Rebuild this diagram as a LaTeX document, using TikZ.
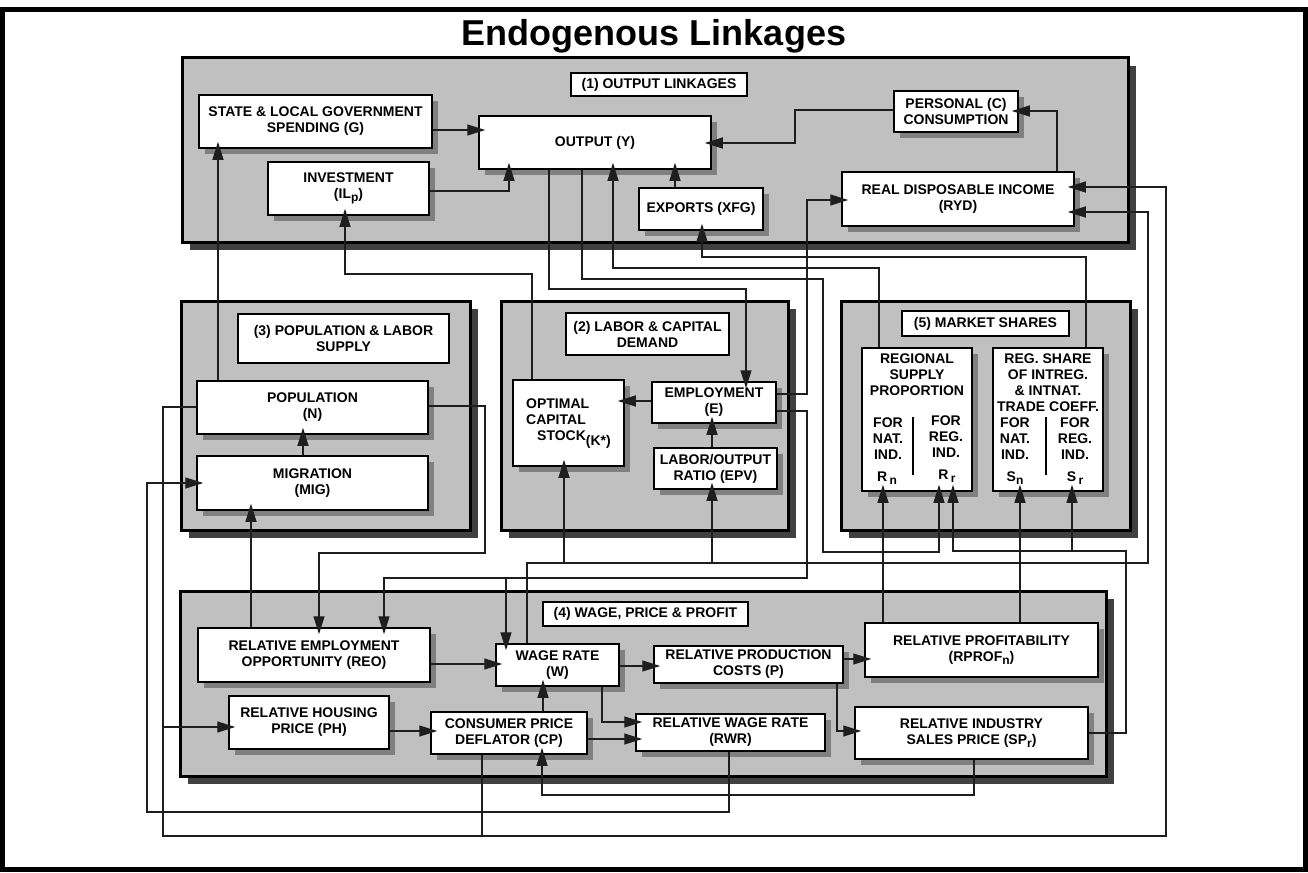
\documentclass[tikz,border=0pt]{standalone}
\usepackage{fontspec}
\setmainfont{Liberation Sans}
\usetikzlibrary{arrows.meta}
\definecolor{grpfill}{RGB}{192,192,192}
\definecolor{grpshadow}{RGB}{64,64,64}
\definecolor{boxshadow}{RGB}{128,128,128}
\definecolor{lncol}{RGB}{30,30,30}
\newcommand\lsub[1]{\raisebox{-3pt}{\fontsize{12}{12}\selectfont #1}}
\newcommand\grp[5]{%
  \fill[grpshadow] (#2+8,#3+8) rectangle (#4+8,#5+8);
  \node[grpbox,minimum width={#4-#2},minimum height={#5-#3}] (#1) at ({(#2+#4)/2},{(#3+#5)/2}) {};}
\newcommand\bx[6]{%
  \fill[boxshadow] (#2+6,#3+6) rectangle (#4+6,#5+6);
  \node[nodebox,minimum width={#4-#2},minimum height={#5-#3}] (#1) at ({(#2+#4)/2},{(#3+#5)/2}) {#6};}
\newcommand\lbl[6]{%
  \node[nodebox,minimum width={#4-#2},minimum height={#5-#3}] (#1) at ({(#2+#4)/2},{(#3+#5)/2}) {#6};}
\begin{document}
\begin{tikzpicture}[x=1pt,y=-1pt,
  font=\fontsize{14}{16}\selectfont\bfseries,
  grpbox/.style={draw=black,line width=3pt,fill=grpfill,inner sep=0pt},
  nodebox/.style={draw=black,line width=1.5pt,fill=white,inner sep=2pt,align=center},
  txt/.style={inner sep=0pt,align=center},
  ln/.style={draw=lncol,line width=1.2pt},
  arr/.style={ln,-{Triangle[length=18pt,width=11pt]},shorten >=-7pt},
  sep/.style={line width=2.2pt}]
\useasboundingbox (0,0) rectangle (1308,872);
\draw[line width=5pt] (2.5,10) rectangle (1305.5,869.5);
\node[font=\fontsize{36}{40}\selectfont\bfseries] (title) at (654,36) {Endogenous Linkages};

% groups
\grp{G1}{182}{58}{1128}{242}
\grp{G3}{181}{301}{470}{530}
\grp{G2}{501}{301}{788}{530}
\grp{G5}{841}{301}{1130}{530}
\grp{G4}{180}{591}{1106}{776}

% labels
\lbl{L1}{571}{73}{747}{96}{(1) OUTPUT LINKAGES}
\lbl{L3}{238}{314}{449}{363}{(3) POPULATION \& LABOR\\SUPPLY}
\lbl{L2}{566}{313}{729}{355}{(2) LABOR \& CAPITAL\\DEMAND}
\lbl{L5}{902}{311}{1069}{336}{(5) MARKET SHARES}
\lbl{L4}{543}{602}{748}{626}{(4) WAGE, PRICE \& PROFIT}

% group 1
\bx{G}{199}{95}{432}{148}{STATE \& LOCAL GOVERNMENT\\SPENDING (G)}
\bx{Y}{479}{116}{711}{169}{OUTPUT (Y)}
\bx{I}{268}{162}{429}{215}{INVESTMENT\\(IL\lsub{p})}
\bx{X}{639}{188}{763}{230}{EXPORTS (XFG)}
\bx{C}{894}{91}{1018}{132}{PERSONAL (C)\\CONSUMPTION}
\bx{RYD}{842}{172}{1074}{226}{REAL DISPOSABLE INCOME\\(RYD)}
% group 3
\bx{N}{197}{381}{428}{434}{POPULATION\\(N)}
\bx{MIG}{197}{456}{428}{510}{MIGRATION\\(MIG)}
% group 2
\bx{K}{513}{380}{624}{466}{\begin{tabular}{@{}l@{}}OPTIMAL\\CAPITAL\\\hspace*{11pt}STOCK\raisebox{-5pt}{(K*)}\end{tabular}}
\bx{E}{652}{382}{776}{423}{EMPLOYMENT\\(E)}
\bx{EPV}{654}{448}{777}{489}{LABOR/OUTPUT\\RATIO (EPV)}
% group 5
\bx{RSP}{862}{348}{972}{491}{}
\bx{SH}{993}{348}{1103}{491}{}
\node[txt] (rspT) at (917,375) {REGIONAL\\SUPPLY\\PROPORTION};
\node[txt] (rspL) at (888,439) {FOR\\NAT.\\IND.};
\node[txt] (rspLn) at (887,478) {R\,\lsub{n}};
\node[txt] (rspR) at (946,437) {FOR\\REG.\\IND.};
\node[txt] (rspRr) at (947,476) {R\,\lsub{r}};
\draw[sep] (913,417) -- (913,475);
\node[txt] (shT) at (1048,383) {REG. SHARE\\OF INTREG.\\\& INTNAT.\\TRADE COEFF.};
\node[txt] (shL) at (1015,439) {FOR\\NAT.\\IND.};
\node[txt] (shLn) at (1015,478) {S\lsub{n}};
\node[txt] (shR) at (1075,439) {FOR\\REG.\\IND.};
\node[txt] (shRr) at (1075,478) {S\,\lsub{r}};
\draw[sep] (1046,417) -- (1046,475);
% group 4
\bx{REO}{198}{628}{430}{682}{RELATIVE EMPLOYMENT\\OPPORTUNITY (REO)}
\bx{W}{496}{644}{619}{686}{WAGE RATE\\(W)}
\bx{PH}{229}{696}{389}{749}{RELATIVE HOUSING\\PRICE (PH)}
\bx{CP}{431}{712}{587}{754}{CONSUMER PRICE\\DEFLATOR (CP)}
\bx{RWR}{636}{714}{825}{751}{RELATIVE WAGE RATE\\(RWR)}
\bx{P}{654}{646}{843}{683}{RELATIVE PRODUCTION\\COSTS (P)}
\bx{RPROF}{865}{623}{1098}{677}{RELATIVE PROFITABILITY\\(RPROF\lsub{n})}
\bx{SP}{855}{707}{1088}{759}{RELATIVE INDUSTRY\\SALES PRICE (SP\lsub{r})}

% junctions
\coordinate (j1) at (506,578);
\coordinate (j2) at (564,563);
\coordinate (j3) at (712,563);
\coordinate (j4) at (1072,551);
\coordinate (j5) at (163,727);
\coordinate (j6) at (482,836);

% connectors group 1
\draw[arr] (G.east |- 0,130) -- (Y.west |- 0,130);
\draw[arr] (I.east |- 0,191) -| (Y.south -| 509,0);
\draw[arr] (X.north -| 675,0) -- (Y.south -| 675,0);
\draw[arr] (C.west |- 0,110) -| (795,143) -- (Y.east |- 0,143);
\draw[arr] (RYD.north -| 1057,0) |- (C.east |- 0,111);
% inside groups
\draw[arr] (MIG.north -| 303,0) -- (N.south -| 303,0);
\draw[arr] (E.west |- 0,401) -- (K.east |- 0,401);
\draw[arr] (EPV.north -| 712,0) -- (E.south -| 712,0);
\draw[arr] (REO.east |- 0,664) -- (W.west |- 0,664);
\draw[arr] (PH.east |- 0,731) -- (CP.west |- 0,731);
\draw[arr] (CP.north -| 543,0) -- (W.south -| 543,0);
\draw[arr] (W.east |- 0,666) -- (P.west |- 0,666);
\draw[arr] (W.south -| 602,0) |- (RWR.west |- 0,722);
\draw[arr] (CP.east |- 0,739) -- (RWR.west |- 0,739);
\draw[arr] (P.east |- 0,659) -- (RPROF.west |- 0,659);
\draw[arr] (P.south -| 837,0) |- (SP.west |- 0,731);
% cross connectors
\draw[arr] (N.north -| 218,0) -- (G.south -| 218,0);
\draw[arr] (K.north -| 532,0) |- (345,274) -- (I.south -| 345,0);
\draw[arr] (Y.south -| 549,0) |- (746,289) -- (E.north -| 746,0);
\draw[arr] (Y.south -| 582,0) |- (823,279) |- (939,552) -- (RSP.south -| 939,0);
\draw[arr] (RSP.north -| 879,0) |- (613,268) -- (Y.south -| 613,0);
\draw[arr] (SH.north -| 1086,0) |- (702,257) -- (X.south -| 702,0);
\draw[arr] (E.east |- 0,394) -| (807,200) -- (RYD.west |- 0,200);
\draw[arr] (E.east |- 0,411) -| (807,578) -| (REO.north -| 384,0);
\draw[arr] (j1) -- (W.north -| j1);
\draw[arr] (N.east |- 0,406) -| (485,553) -| (REO.north -| 319,0);
\draw[arr] (W.north -| 527,0) |- (1148,563) |- (RYD.east |- 0,212);
\draw[arr] (j2) -- (K.south -| j2);
\draw[arr] (j3) -- (EPV.south -| j3);
\draw[arr] (RPROF.north -| 883,0) -- (RSP.south -| 883,0);
\draw[arr] (RPROF.north -| 1020,0) -- (SH.south -| 1020,0);
\draw[arr] (SP.east |- 0,733) -| (1126,551) -| (RSP.south -| 953,0);
\draw[arr] (j4) -- (SH.south -| j4);
\draw[arr] (RWR.south -| 729,0) |- (147,812) |- (MIG.west |- 0,483);
\draw[arr] (REO.north -| 251,0) -- (MIG.south -| 251,0);
\draw[arr] (N.west |- 0,407) -| (163,836) -| (1166,187) -- (RYD.east |- 0,187);
\draw[arr] (j5) -- (PH.west |- j5);
\draw[ln] (CP.south -| j6) -- (j6);
\draw[arr] (SP.south -| 974,0) |- (542,795) -- (CP.south -| 542,0);
\end{tikzpicture}
\end{document}
